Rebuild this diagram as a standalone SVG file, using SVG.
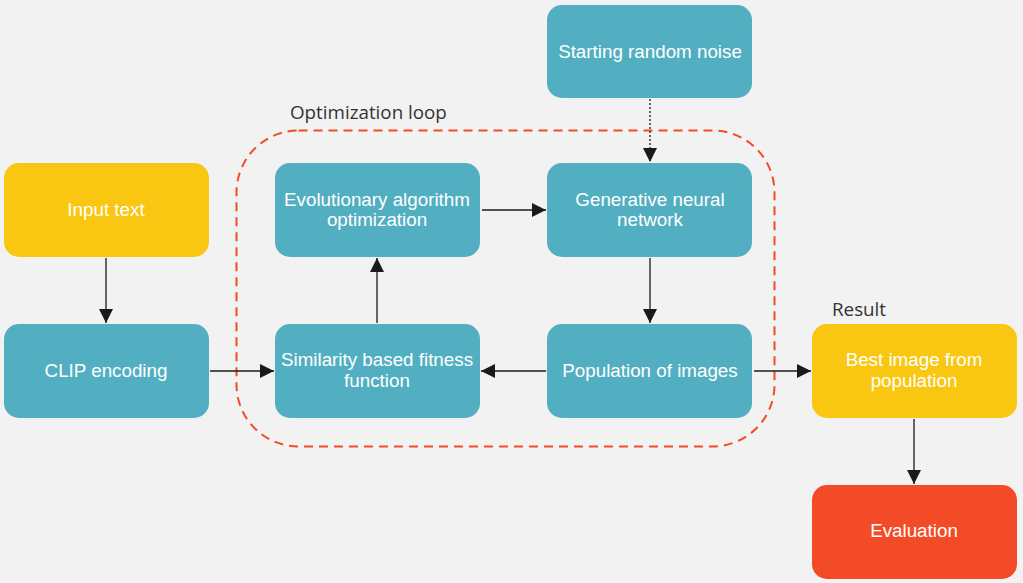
<svg xmlns="http://www.w3.org/2000/svg" width="1023" height="583" viewBox="0 0 1023 583">
<defs>
<style>
.n{stroke:none}
.teal{fill:#52afc1}
.yel{fill:#f9c712}
.red{fill:#f34b27}
.t{font-family:"Liberation Sans",Arial,sans-serif;font-size:18.8px;fill:#ffffff;text-anchor:middle}
.lbl{font-family:"Open Sans","Noto Sans",sans-serif;font-size:18.8px;fill:#333333}
.c{stroke:#1a1a1a;stroke-width:1.3;fill:none}
</style>
<marker id="ah" viewBox="0 0 10 10" refX="10" refY="5" markerWidth="14" markerHeight="14" markerUnits="userSpaceOnUse" orient="auto">
<path d="M0,0 L10,5 L0,10 z" fill="#1a1a1a"/>
</marker>
</defs>
<rect width="1023" height="583" fill="#f2f2f2"/>
<rect x="236.5" y="130.5" width="538" height="316" rx="62" fill="none" stroke="#f34b27" stroke-width="2" stroke-dasharray="9,6"/>
<text class="lbl" x="290" y="119">Optimization loop</text>
<text class="lbl" x="832" y="316">Result</text>
<g id="connectors">
<line class="c" x1="106" y1="258" x2="106" y2="323" marker-end="url(#ah)"/>
<line class="c" x1="210" y1="371" x2="274" y2="371" marker-end="url(#ah)"/>
<line class="c" x1="377" y1="323" x2="377" y2="258" marker-end="url(#ah)"/>
<line class="c" x1="482" y1="210" x2="546" y2="210" marker-end="url(#ah)"/>
<line class="c" x1="650" y1="258" x2="650" y2="323" marker-end="url(#ah)"/>
<line class="c" x1="546" y1="371" x2="481" y2="371" marker-end="url(#ah)"/>
<line class="c" x1="754" y1="371" x2="811" y2="371" marker-end="url(#ah)"/>
<line class="c" x1="914" y1="419" x2="914" y2="484" marker-end="url(#ah)"/>
<line class="c" x1="650" y1="99" x2="650" y2="162" stroke-dasharray="2,2" marker-end="url(#ah)"/>
</g>
<g id="noise"><rect class="n teal" x="547" y="5" width="205" height="93" rx="15"/><text class="t" x="650" y="58">Starting random noise</text></g>
<g id="input"><rect class="n yel" x="4" y="163" width="205" height="94" rx="15"/><text class="t" x="106" y="216">Input text</text></g>
<g id="evo"><rect class="n teal" x="275" y="163" width="205" height="94" rx="15"/><text class="t" x="377" y="206">Evolutionary algorithm</text><text class="t" x="377" y="226">optimization</text></g>
<g id="gen"><rect class="n teal" x="547" y="163" width="205" height="94" rx="15"/><text class="t" x="650" y="206">Generative neural</text><text class="t" x="650" y="226">network</text></g>
<g id="clip"><rect class="n teal" x="4" y="324" width="205" height="94" rx="15"/><text class="t" x="106" y="377">CLIP encoding</text></g>
<g id="sim"><rect class="n teal" x="275" y="324" width="205" height="94" rx="15"/><text class="t" x="377" y="366">Similarity based fitness</text><text class="t" x="377" y="387">function</text></g>
<g id="pop"><rect class="n teal" x="547" y="324" width="205" height="94" rx="15"/><text class="t" x="650" y="377">Population of images</text></g>
<g id="best"><rect class="n yel" x="812" y="324" width="205" height="94" rx="15"/><text class="t" x="914" y="366">Best image from</text><text class="t" x="914" y="387">population</text></g>
<g id="eval"><rect class="n red" x="812" y="485" width="205" height="94" rx="15"/><text class="t" x="914" y="537">Evaluation</text></g>
</svg>
